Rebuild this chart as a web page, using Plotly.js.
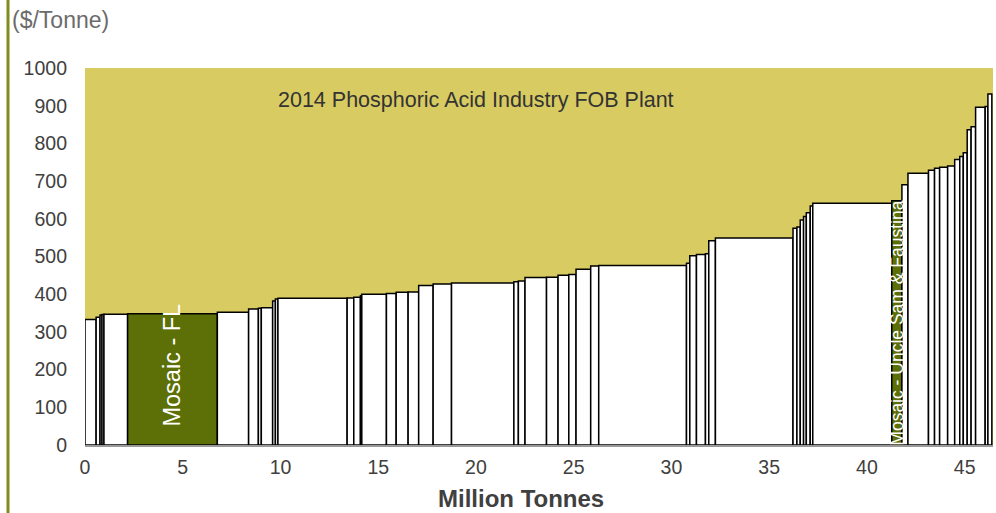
<!DOCTYPE html>
<html>
<head>
<meta charset="utf-8">
<script src="https://cdn.plot.ly/plotly-3.0.1.min.js"></script>
<style>
html,body{margin:0;padding:0;background:#fff;}
#chart{width:996px;height:513px;}
</style>
</head>
<body>
<div id="chart"></div>
<script>
// Capacity of each plant (million tonnes) and FOB plant cost ($/tonne), ordered along the cost curve
const capacities = [0.57,0.20,0.10,0.10,1.21,4.59,1.60,0.50,0.15,0.58,0.14,0.13,3.54,0.34,0.34,0.07,1.26,0.50,0.61,0.54,0.74,0.94,3.19,0.23,0.34,1.10,0.59,0.55,0.37,0.75,0.41,4.49,0.17,0.34,0.46,0.17,0.34,3.97,0.20,0.17,0.17,0.14,0.20,0.13,4.04,0.52,0.31,1.05,0.31,0.26,0.41,0.36,0.26,0.18,0.20,0.20,0.23,0.49,0.14,0.20];
const costs = [333,339,345,346,347,348,352,361,363,364,382,387,389,390,392,396,400,402,405,406,423,427,430,433,435,444,445,450,452,466,475,476,482,502,505,507,542,549,575,578,597,606,616,634,641,648,690,721,729,734,737,740,757,765,775,836,844,896,898,931];
const labels = costs.map(()=> "");
labels[5] = "Mosaic - FL";
labels[45] = "Mosaic - Uncle Sam & Faustina";
const highlighted = [5,45];

const chartTitle = "2014 Phosphoric Acid Industry FOB Plant";
const yUnit = "($/Tonne)";
const xTitle = "Million Tonnes";
const yTicks = [0,100,200,300,400,500,600,700,800,900,1000];
const xTicks = [0,5,10,15,20,25,30,35,40,45];

const centers = [];
let acc = 0;
capacities.forEach(w => { centers.push(acc + w/2); acc += w; });

const GREEN = "#5d6f07";
const KHAKI = "#d8cb62";
const colors = costs.map((_,i)=> highlighted.includes(i) ? GREEN : "#ffffff");

const trace = {
  type: "bar",
  x: centers,
  y: costs,
  width: capacities,
  marker: {color: colors, line: {color: "#000000", width: 1.5}},
  hoverinfo: "none"
};

const FONT = "'Liberation Sans', Arial, sans-serif";
const tickFont = {family: FONT, size: 19.5, color: "#404040"};

const layout = {
  width: 996, height: 513,
  margin: {l: 85, r: 3, t: 68, b: 68},
  paper_bgcolor: "#ffffff",
  plot_bgcolor: KHAKI,
  showlegend: false,
  bargap: 0,
  xaxis: {
    range: [0, 46.45], tickvals: xTicks, ticktext: xTicks.map(String),
    showgrid: false, zeroline: false, showline: true, linecolor: "#999999", linewidth: 1.5,
    ticks: "", tickfont: tickFont, fixedrange: true, ticklabelstandoff: 4
  },
  yaxis: {
    range: [0, 1000], tickvals: yTicks, ticktext: yTicks.map(String),
    showgrid: false, zeroline: false, showline: false,
    ticks: "", ticklen: 0, tickfont: tickFont, fixedrange: true, ticklabelstandoff: 17
  },
  shapes: [{
    type: "line", xref: "paper", yref: "paper",
    x0: -0.0848, x1: -0.0848, y0: -0.2, y1: 1.2,
    line: {color: "#7f8c1e", width: 3}
  }],
  annotations: [
    {xref: "paper", yref: "paper", x: -0.083, y: 1.128, xanchor: "left", yanchor: "middle",
     text: yUnit, showarrow: false, font: {family: FONT, size: 23, color: "#6b6b6b"}},
    {xref: "x", yref: "y", x: 20, y: 915, xanchor: "center", yanchor: "middle",
     text: chartTitle, showarrow: false, font: {family: FONT, size: 21.5, color: "#333333"}},
    {xref: "x", yref: "paper", x: 22.3, y: -0.1406, xanchor: "center", yanchor: "middle",
     text: "<b>" + xTitle + "</b>", showarrow: false, font: {family: FONT, size: 24, color: "#404040"}},
    {xref: "x", yref: "y", x: centers[5], y: 212, textangle: -90, xanchor: "center", yanchor: "middle",
     text: labels[5], showarrow: false, font: {family: FONT, size: 23.5, color: "#ffffff"}},
    {xref: "x", yref: "y", x: centers[45], y: 324, textangle: -90, xanchor: "center", yanchor: "middle",
     text: labels[45], showarrow: false, font: {family: FONT, size: 17.5, color: "#ffffff"}}
  ]
};

Plotly.newPlot("chart", [trace], layout, {staticPlot: true, displayModeBar: false});
</script>
</body>
</html>
